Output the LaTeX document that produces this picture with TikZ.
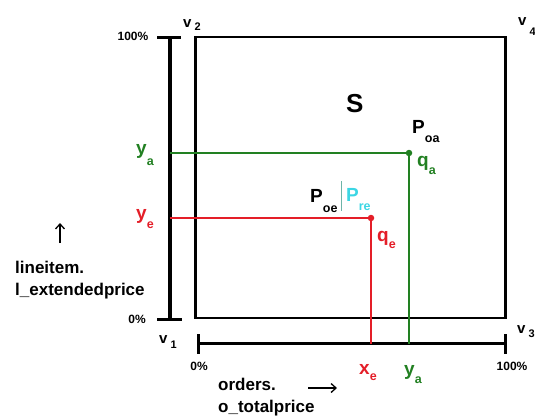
\documentclass[tikz,border=0pt]{standalone}
\usepackage{fontspec}
\setmainfont{Liberation Sans}
\usetikzlibrary{arrows.meta, positioning}
\definecolor{agreen}{RGB}{34,128,34}
\definecolor{ared}{RGB}{228,30,40}
\definecolor{acyan}{RGB}{60,214,228}
\definecolor{asep}{RGB}{110,180,168}
% label with a lowered index: #1 base, #2 index, #3 drop
\newcommand\lsub[3]{#1\raisebox{-#3pt}{\fontsize{12.5}{12.5}\selectfont #2}}
\newcommand\vsub[2]{v\hspace{3pt}\raisebox{-#2pt}{\fontsize{11}{11}\selectfont #1}}

\begin{document}
\begin{tikzpicture}[x=1pt, y=-1pt,
  axis/.style={line width=4pt},
  frame/.style={line width=2.5pt},
  tick/.style={line width=3pt},
  proj/.style={line width=1.3pt},
  dot/.style={circle, inner sep=0pt, minimum size=6.5pt},
  lbl/.style={font=\fontsize{19}{19}\selectfont\bfseries, inner sep=0pt, anchor=base west},
  pct/.style={font=\fontsize{12}{12}\selectfont\bfseries, inner sep=0pt},
  vtx/.style={font=\fontsize{15}{15}\selectfont\bfseries, inner sep=0pt, anchor=base west},
  attr/.style={font=\fontsize{17}{22.5}\selectfont\bfseries, inner sep=0pt, align=left, anchor=base west},
  arr/.style={-{Straight Barb[length=5pt, width=9pt]}, line width=1.3pt}
]
  \useasboundingbox (0,0) rectangle (535,416);

  % Corners of the square
  \coordinate (v1) at (195.5,318);
  \coordinate (v2) at (195.5,37);
  \coordinate (v3) at (505.5,318);
  \coordinate (v4) at (505.5,37);
  \draw[frame] (v1) -- (v2) -- (v4) -- (v3) -- cycle;

  % Axes
  \coordinate (ytop) at (170,37);
  \coordinate (ybot) at (170,319);
  \coordinate (xlo)  at (198,343.5);
  \coordinate (xhi)  at (505,343.5);
  \draw[axis] (ytop) -- (ybot);
  \draw[tick] ([xshift=-13pt]ytop) -- ([xshift=11pt]ytop);
  \draw[tick] ([xshift=-13pt]ybot) -- ([xshift=12pt]ybot);
  \draw[tick] (xlo) -- (xhi);
  \draw[tick] ([yshift=-10pt]xlo) -- ([yshift=10pt]xlo);
  \draw[tick] ([yshift=-10pt]xhi) -- ([yshift=10pt]xhi);

  % Points and their projections
  \node[dot, fill=agreen] (poa) at (409,153) {};
  \node[dot, fill=ared]   (poe) at (371,218) {};
  \draw[proj, agreen] (poa.center) -- (poa -| ytop);
  \draw[proj, agreen] (poa.center) -- (poa |- xlo);
  \draw[proj, ared]   (poe.center) -- (poe -| ytop);
  \draw[proj, ared]   (poe.center) -- (poe |- xlo);

  % Scale labels
  \node[pct] (ytopl) at (133,36)  {100\%};
  \node[pct] (ybotl) at (137,319) {0\%};
  \node[pct] (xlol)  at (199,366) {0\%};
  \node[pct] (xhil)  at (512,366) {100\%};

  % Vertex labels
  \node[vtx] (lv2) at (183,27)  {\vsub{2}{3}};
  \node[vtx] (lv4) at (518,25)  {\vsub{4}{10}};
  \node[vtx] (lv1) at (159,343) {\vsub{1}{5}};
  \node[vtx] (lv3) at (517,333) {\vsub{3}{4}};

  % Labels inside
  \node[lbl, font=\fontsize{26}{26}\selectfont\bfseries] (s) at (346,112) {S};
  \node[lbl] (lpoa) at (412,133) {\lsub{P}{oa}{9}};
  \node[lbl, agreen] (lqa) at (417,166) {\lsub{q}{a}{8}};
  \node[lbl] (lpoe) at (310,202) {\lsub{P}{oe}{10}};
  \coordinate (septop) at (341,181);
  \coordinate (sepbot) at (341,211);
  \draw[asep, line width=1pt] (septop) -- (sepbot);
  \node[lbl, acyan] (lpre) at (346,201) {\lsub{P}{re}{9}};
  \node[lbl, ared] (lqe) at (377,241) {\lsub{q}{e}{7}};

  % Axis values
  \node[lbl, agreen] (lya) at (136,154) {\lsub{y}{a}{11}};
  \node[lbl, ared]   (lye) at (136,219) {\lsub{y}{e}{9}};
  \node[lbl, ared]   (lxe) at (359,374) {\lsub{x}{e}{6}};
  \node[lbl, agreen] (lyb) at (404,375) {\lsub{y}{a}{8}};

  % Attribute names
  \node[attr] (yname) at (15,295.5) {lineitem.\\l\_extendedprice};
  \node[attr] (xname) at (218,412.5) {orders.\\o\_totalprice};
  \coordinate (upfrom) at (60,243);
  \coordinate (upto)   at (60,223);
  \draw[arr] (upfrom) -- (upto);
  \coordinate (rtfrom) at (308,388);
  \coordinate (rtto)   at (337,388);
  \draw[arr] (rtfrom) -- (rtto);
\end{tikzpicture}
\end{document}
